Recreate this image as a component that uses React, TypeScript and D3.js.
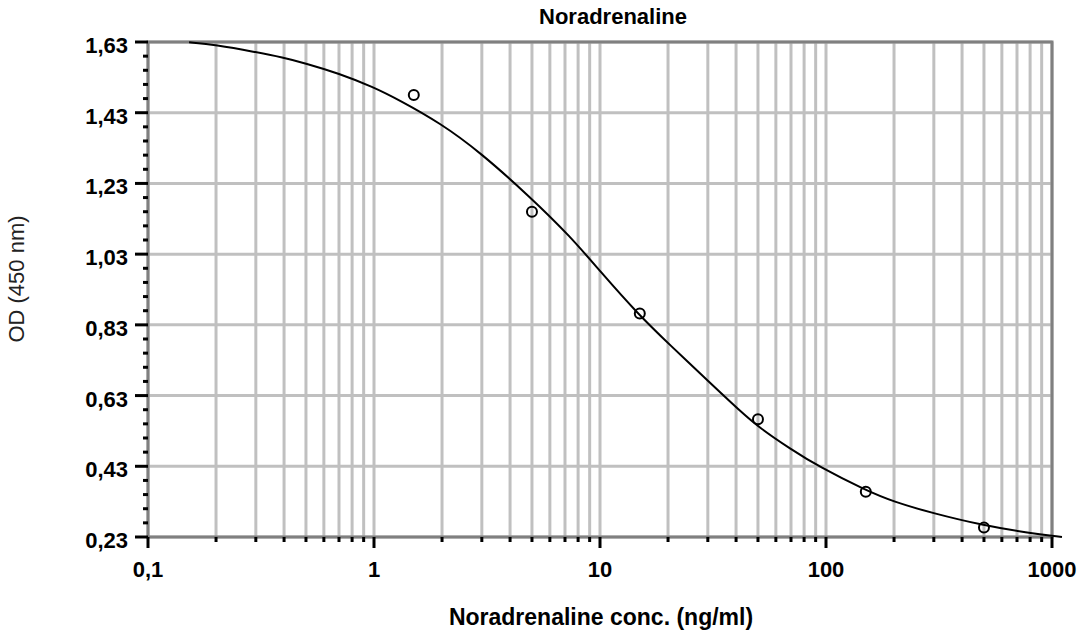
import { useEffect } from 'react';
import * as d3 from 'd3';

// measured standards (ng/ml, OD)
const pointX = [1.5, 5, 15, 50, 150, 500];
const pointY = [1.48, 1.15, 0.862, 0.563, 0.358, 0.257];

// fitted curve
const curveX = [0.152, 0.198, 0.298, 0.396, 0.495, 0.7, 0.99, 1.3, 1.96, 2.94, 4.9, 7.37, 10, 14.7, 20.4, 30.7, 41.7, 51, 69.3, 94.1, 149, 198, 298, 495, 775, 1107];
const curveY = [1.629, 1.622, 1.602, 1.586, 1.57, 1.541, 1.503, 1.465, 1.401, 1.319, 1.192, 1.081, 0.982, 0.861, 0.773, 0.666, 0.586, 0.538, 0.48, 0.427, 0.363, 0.33, 0.297, 0.263, 0.242, 0.23];

const yTicks = [0.23, 0.43, 0.63, 0.83, 1.03, 1.23, 1.43, 1.63];
const xTicks = [0.1, 1, 10, 100, 1000];

const W = 1081;
const H = 635;
const left = 148;
const right = 1052;
const top = 42;
const bottom = 537;

const fmt = (v: number) => String(v).replace('.', ',');
const fmtY = (v: number) => v.toFixed(2).replace('.', ',');

const App = () => {
	useEffect(() => {
		document.body.style.margin = '0';
	}, []);

	const x = d3.scaleLog().domain([0.1, 1000]).range([left, right]);
	const y = d3.scaleLinear().domain([0.23, 1.63]).range([bottom, top]);

	// every 1..9 x 10^k between the decades
	const logTicks: number[] = [];
	for (let k = -1; k < 3; k++) {
		for (let m = 1; m < 10; m++) logTicks.push(+(m * Math.pow(10, k)).toPrecision(3));
	}
	logTicks.push(1000);
	const minorX = logTicks.filter((t) => !xTicks.includes(t));

	const minorY: number[] = [];
	for (let i = 0; i < yTicks.length - 1; i++) {
		for (let j = 1; j < 5; j++) minorY.push(yTicks[i] + j * 0.04);
	}

	// basis spline smooths out reading noise in the traced points
	const line = d3
		.line<number>()
		.x((_, i) => x(curveX[i]))
		.y((d) => y(d))
		.curve(d3.curveBasis);

	const font = "'Liberation Sans', Arial, sans-serif";

	return (
		<svg width={W} height={H} style={{ display: 'block', fontFamily: font }}>
			<rect width={W} height={H} fill='#fff' />
			{/* grid */}
			{logTicks.map((t) => (
				<line key={'gx' + t} x1={x(t)} x2={x(t)} y1={top} y2={bottom} stroke='#c0c0c0' strokeWidth={3} />
			))}
			{yTicks.map((t) => (
				<line key={'gy' + t} x1={left} x2={right} y1={y(t)} y2={y(t)} stroke='#c0c0c0' strokeWidth={3} />
			))}
			<rect x={left} y={top} width={right - left} height={bottom - top} fill='none' stroke='#808080' strokeWidth={3} />

			{/* y ticks */}
			{yTicks.map((t) => (
				<g key={'ty' + t}>
					<line x1={left - 13} x2={left} y1={y(t)} y2={y(t)} stroke='#000' strokeWidth={3} />
					<text x={128} y={y(t) + 11} textAnchor='end' fontSize={22} fontWeight='bold'>
						{fmtY(t)}
					</text>
				</g>
			))}
			{minorY.map((t, i) => (
				<line key={'my' + i} x1={left - 5} x2={left} y1={y(t)} y2={y(t)} stroke='#000' strokeWidth={3} />
			))}

			{/* x ticks */}
			{xTicks.map((t) => (
				<g key={'tx' + t}>
					<line x1={x(t)} x2={x(t)} y1={bottom} y2={bottom + 11} stroke='#000' strokeWidth={3} />
					<text x={x(t)} y={577} textAnchor='middle' fontSize={22} fontWeight='bold'>
						{fmt(t)}
					</text>
				</g>
			))}
			{minorX.map((t) => (
				<line key={'mx' + t} x1={x(t)} x2={x(t)} y1={bottom} y2={bottom + 5} stroke='#000' strokeWidth={3} />
			))}

			{/* fitted curve */}
			<path d={line(curveY) ?? ''} fill='none' stroke='#000' strokeWidth={2} />

			{/* standards */}
			{pointX.map((v, i) => (
				<circle key={'p' + i} cx={x(v)} cy={y(pointY[i])} r={5} fill='none' stroke='#000' strokeWidth={2} />
			))}

			<text x={613} y={24} textAnchor='middle' fontSize={22} fontWeight='bold'>
				Noradrenaline
			</text>
			<text x={601} y={625} textAnchor='middle' fontSize={23} fontWeight='bold'>
				Noradrenaline conc. (ng/ml)
			</text>
			<text transform='translate(24, 279) rotate(-90)' textAnchor='middle' fontSize={22} fill='#222'>
				OD (450 nm)
			</text>
		</svg>
	);
};

export default App;
